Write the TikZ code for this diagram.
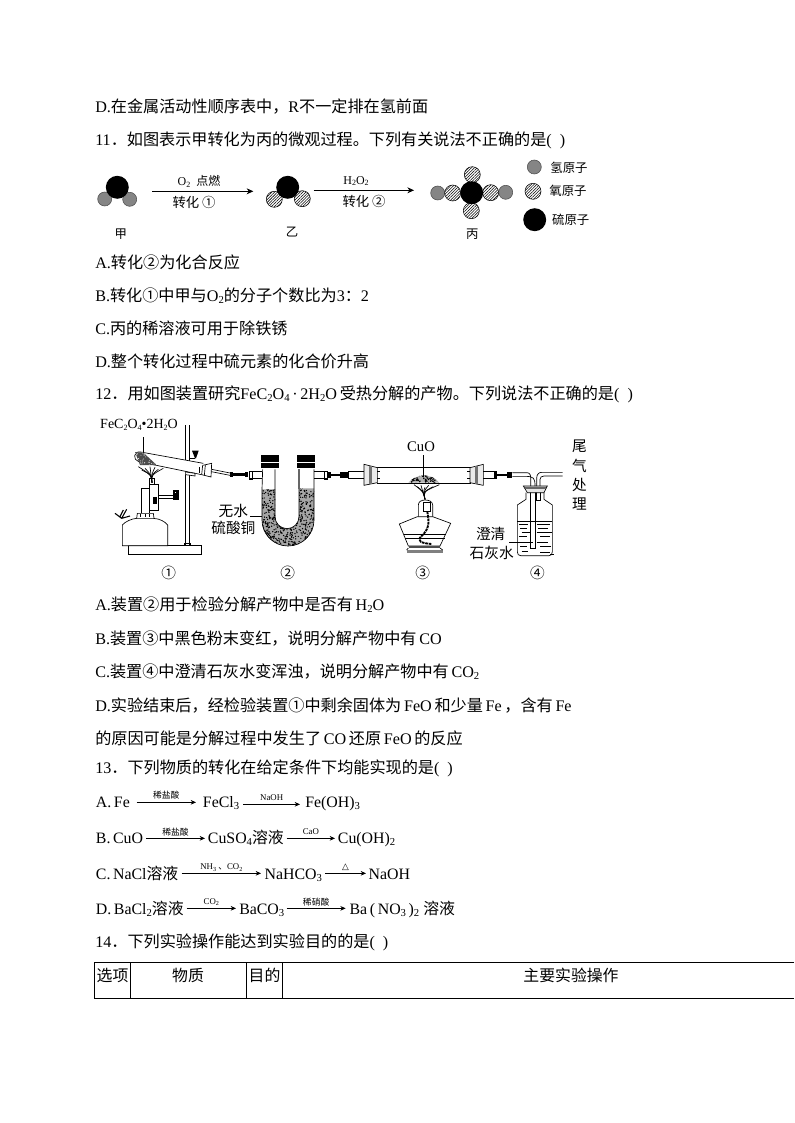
\documentclass[tikz,border=0pt]{standalone}
\usepackage{fontspec}
\setmainfont{Liberation Serif}
\newfontfamily\cjk{Noto Sans CJK SC}
\newfontfamily\djv{DejaVu Sans}
\newcommand\zh[1]{{\cjk #1}}
\newcommand\dn[1]{\raisebox{-.35ex}{\fontsize{8}{8}\selectfont #1}}
\newcommand\dns[1]{\raisebox{-.3ex}{\fontsize{4.6}{5}\selectfont #1}}
\newcommand\dnm[1]{\raisebox{-.3ex}{\fontsize{6}{6}\selectfont #1}}
\usetikzlibrary{arrows.meta,patterns.meta}
\tikzset{
 txt/.style={anchor=base west,inner sep=0pt,yshift=-1pt,font=\fontsize{12.1}{14}\selectfont},
 ctr/.style={anchor=center,inner sep=0pt,font=\fontsize{11}{13}\selectfont},
 small/.style={anchor=center,inner sep=0pt,font=\fontsize{9.3}{11}\selectfont},
 conv/.style={anchor=center,inner sep=0pt,font=\fontsize{10}{12}\selectfont},
 rlab/.style={anchor=center,inner sep=0pt,font=\fontsize{6.6}{7}\selectfont},
 rarrow/.style={-{Stealth[length=4pt,width=3.5pt]},line width=.55pt},
 marrow/.style={-{Stealth[length=5pt,width=4.5pt]},line width=.6pt},
 batom/.style={circle,fill=black,inner sep=0pt,minimum size=17.2pt},
 gatom/.style={circle,draw=black!70,line width=.4pt,fill=black!48,inner sep=0pt,minimum size=10.5pt},
 hatom/.style={circle,draw=black,line width=.4pt,inner sep=0pt,minimum size=12pt,
   preaction={fill=white},pattern={Lines[angle=45,distance=1.5pt,line width=.4pt]}},
 zA/.style={shift={(90,410)},x=.25pt,y=-.25pt},
 zB/.style={shift={(340,410)},x=.25pt,y=-.25pt},
 zC/.style={shift={(90,785)},x=.25pt,y=-.25pt},
 glass/.style={line width=.5pt,draw=black},
 rubber/.style={line width=2.2pt,draw=black},
 cell/.style={anchor=center,inner sep=0pt,font=\fontsize{11.9}{13}\selectfont},
}
\newcommand\speck[5]{\foreach \i in {1,...,#1}{\pgfmathsetmacro\sx{#2+rnd*(#3-#2)}\pgfmathsetmacro\sy{#4+rnd*(#5-#4)}\fill (\sx,\sy) circle (.55pt);}}
\newcommand\rx[6]{\coordinate (#1-a) at (#2,#4);\coordinate (#1-b) at (#3,#4);\draw[rarrow] (#1-a)--(#1-b);\node[rlab] (#1-l) at ({(#2+#3)/2},#5) {#6};}
\begin{document}
\begin{tikzpicture}[x=.75pt,y=-.75pt]
\useasboundingbox (0,0) rectangle (794,1123);
\fill[white] (0,0) rectangle (794,1123);
% body text
\node[txt] (l1) at (95,111) {D.\zh{在金属活动性顺序表中，}R\zh{不一定排在氢前面}};
\node[txt] (l2) at (95,144) {11\zh{．如图表示甲转化为丙的微观过程。下列有关说法不正确的是}(\ \ )};
\node[txt] (l3) at (95,267) {A.\zh{转化②为化合反应}};
\node[txt] (l4) at (95,300) {B.\zh{转化①中甲与}O\dn{2}\zh{的分子个数比为}3\zh{：}2};
\node[txt] (l5) at (95,333) {C.\zh{丙的稀溶液可用于除铁锈}};
\node[txt] (l6) at (95,366) {D.\zh{整个转化过程中硫元素的化合价升高}};
\node[txt] (l7) at (95,398) {12\zh{．用如图装置研究}FeC\dn{2}O\dn{4}\,·\,2H\dn{2}O\,\zh{受热分解的产物。下列说法不正确的是}(\ \ )};
\node[txt] (l8) at (95,609) {A.\zh{装置②用于检验分解产物中是否有}\,H\dn{2}O};
\node[txt] (l9) at (95,643) {B.\zh{装置③中黑色粉末变红，说明分解产物中有}\,CO};
\node[txt] (l10) at (95,676) {C.\zh{装置④中澄清石灰水变浑浊，说明分解产物中有}\,CO\dn{2}};
\node[txt] (l11) at (95,710) {D.\zh{实验结束后，经检验装置①中剩余固体为}\,FeO\,\zh{和少量}\,Fe\,\zh{，含有}\,Fe};
\node[txt] (l12) at (95,743) {\zh{的原因可能是分解过程中发生了}\,CO\,\zh{还原}\,FeO\,\zh{的反应}};
\node[txt] (l13) at (95,772) {13\zh{．下列物质的转化在给定条件下均能实现的是}(\ \ )};
\node[txt] (l14) at (95,946) {14\zh{．下列实验操作能达到实验目的的是}(\ \ )};
% molecules
\node[gatom] (j1) at (104.7,199) {};
\node[gatom] (j2) at (129.7,199.3) {};
\node[batom] (jS) at (117.3,187.3) {};
\node[hatom] (y1) at (274.3,199.3) {};
\node[hatom] (y2) at (302.3,198.7) {};
\node[batom] (yS) at (287.7,187.3) {};
\node[gatom] (b1) at (437.7,193) {};
\node[gatom] (b2) at (505.7,192.3) {};
\node[hatom] (b3) at (452.7,193) {};
\node[hatom] (b4) at (490.7,192.7) {};
\node[hatom] (b5) at (472.3,174.7) {};
\node[hatom] (b6) at (471.3,210.7) {};
\node[batom] (bS) at (471.7,192.7) {};
\coordinate (a1s) at (152.3,191.3);\coordinate (a1e) at (253.3,191.3);
\coordinate (a2s) at (313.7,190.3);\coordinate (a2e) at (414,190.3);
\draw[marrow] (a1s)--(a1e);
\draw[marrow] (a2s)--(a2e);
\node[anchor=center,inner sep=0pt,font=\fontsize{9}{10}\selectfont] (t1) at (199,181.7) {O\dnm{2}\ \ \zh{点燃}};
\node[conv] (t2) at (194,202) {\zh{转化 ①}};
\node[anchor=center,inner sep=0pt,font=\fontsize{9}{10}\selectfont] (t3) at (356,181) {H\dnm{2}O\dnm{2}};
\node[conv] (t4) at (364,201) {\zh{转化 ②}};
\node[small] (n1) at (120.7,234) {\zh{甲}};
\node[small] (n2) at (292,231.7) {\zh{乙}};
\node[small] (n3) at (472.3,234) {\zh{丙}};
\node[gatom] (k1) at (534.3,167) {};
\node[hatom] (k2) at (533,191.3) {};
\node[batom] (k3) at (534.7,219.7) {};
\node[small] (k1t) at (569,167.3) {\zh{氢原子}};
\node[small] (k2t) at (568,190.7) {\zh{氧原子}};
\node[small] (k3t) at (570.7,220) {\zh{硫原子}};
% apparatus left
\begin{scope}[zA]
\pgfmathsetseed{7}
\node[anchor=center,inner sep=0pt,font=\fontsize{10.5}{12}\selectfont] (fe) at (147,44) {FeC\dnm{2}O\dnm{4}•2H\dnm{2}O};
\node[ctr] (ws) at (430,303) {\zh{无水}};
\node[ctr] (lt) at (430,355) {\zh{硫酸铜}};
\node[ctr] (c1) at (236,490) {\zh{①}};
\node[ctr] (c2) at (593,490) {\zh{②}};
\draw[glass] (160,82)--(160,130);
% base and rod
\draw[glass,fill=white] (115,407)--(333,407)--(333,433)--(115,433)--cycle;
\draw[glass] (287,45)--(287,405)(297,45)--(297,405);
\draw[glass] (284,400) rectangle (300,407);
% burner
\draw[glass,fill=white] (97,407)--(97,345) .. controls (105,335) and (125,326) .. (140,325)--(190,325) .. controls (210,326) and (225,335) .. (233,345)--(233,407)--cycle;
\draw[glass] (140,325)--(142,310)--(190,310)--(192,325);
\draw[glass] (150,312)--(150,322)(165,312)--(165,322)(178,312)--(178,322);
\draw[glass,fill=white] (153,310)--(153,235)--(178,235)--(178,310);
\draw[glass,fill=white] (178,222)--(205,222)--(205,300)--(178,300)--cycle;
\draw[glass,fill=black] (190,262) rectangle (199,280);
\draw[glass] (205,255)--(250,255)(205,264)--(250,264);
\fill (250,240) rectangle (268,270);
\fill[white] (255,246) rectangle (258,250);
\draw[line width=.8pt] (75,310)--(95,325)--(120,318)(95,325)--(110,298)(90,320)--(100,300);
% flame
\foreach \xx/\yy in {145/170,155/180,165/175,180/170,195/172,205/178,220/175}{\draw[line width=.5pt] (186,218) .. controls (184,195) .. (\xx,\yy);}
\draw[line width=.6pt] (178,205) rectangle (192,222);
% tube
\draw[glass,fill=white] (340,160)--(152,126) .. controls (130,122) and (128,150) .. (146,155)--(335,194);
\begin{scope}
\clip (135,126)--(160,128)--(200,165)--(150,165)--cycle;
\fill[black!70] (130,120) rectangle (200,170);
\foreach \i in {1,...,50}{\pgfmathsetmacro\sx{135+rnd*65}\pgfmathsetmacro\sy{124+rnd*45}\fill[white] (\sx,\sy) circle (.35pt);}
\end{scope}
\draw[glass,fill=white] (338,166)--(365,160)--(363,201)--(335,194)--cycle;
\draw[glass] (346,165)--(343,196);
\draw[glass] (327,172)--(327,188);
\draw[glass] (365,178)--(420,189)(364,185)--(420,196);
\draw[rubber] (420,194)--(475,194);
\fill (420,186) rectangle (430,202);\fill (466,186) rectangle (475,202);
% clamp
\draw[glass,fill=white] (287,186)--(315,190)--(315,198)--(287,194);
\fill (306,122)--(326,122)--(318,145)--(315,145)--cycle;
\draw[line width=1.2pt] (298,145)--(316,145);
% U tube
\begin{scope}
\clip (516,238)--(516,330) arc[start angle=180,end angle=360,radius=19.5pt]--(672,235)--(627,235)--(627,320) arc[start angle=0,end angle=-180,radius=9pt]--(555,238)--cycle;
\fill[black!35] (510,230) rectangle (680,410);
\speck{720}{510}{680}{230}{410}
\end{scope}
\draw[glass] (518,178)--(516,238)--(516,330) arc[start angle=180,end angle=360,radius=19.5pt]--(672,178);
\draw[glass] (555,178)--(555,320) arc[start angle=180,end angle=360,radius=9pt]--(627,178);
\draw[line width=1pt,draw=black!60] (627,178)--(627,238);
\fill (513,135) rectangle (567,155);\fill (513,158) rectangle (567,175);
\fill (621,135) rectangle (675,155);\fill (621,158) rectangle (675,175);
\draw[glass] (480,185)--(516,185)(480,205)--(516,205);
\draw[glass] (478,183) rectangle (486,207);
\draw[glass] (672,185)--(712,185)(672,205)--(712,205);
\draw[glass] (704,183) rectangle (712,207);
\draw[rubber] (712,195)--(778,195);
\fill (712,187) rectangle (722,203);\fill (762,187) rectangle (778,203);
\draw[glass] (480,320)--(516,320);
\end{scope}
% apparatus right
\begin{scope}[zB]
\pgfmathsetseed{11}
\node[ctr] (cu) at (243,110) {CuO};
\node[ctr] (w1) at (718,108) {\zh{尾}};
\node[ctr] (w2) at (718,168) {\zh{气}};
\node[ctr] (w3) at (718,225) {\zh{处}};
\node[ctr] (w4) at (718,283) {\zh{理}};
\node[ctr] (cq) at (452,373) {\zh{澄清}};
\node[ctr] (sh) at (455,430) {\zh{石灰水}};
\node[ctr] (c3) at (248,490) {\zh{③}};
\node[ctr] (c4) at (592,490) {\zh{④}};
% combustion tube
\draw[glass] (112,171)--(392,171)(112,220)--(392,220);
\draw[glass,fill=black!8] (72,163)--(112,173)--(112,218)--(72,226)--cycle;
\fill[black!55] (88,167) rectangle (97,222);
\draw[glass,fill=black!8] (430,163)--(390,173)--(390,218)--(430,226)--cycle;
\fill[black!55] (405,167) rectangle (414,222);
\draw[glass] (112,185)--(120,185)(112,205)--(120,205)(390,185)--(382,185)(390,205)--(382,205);
\draw[glass] (25,185)--(72,185)(25,205)--(72,205);
\draw[glass] (430,185)--(470,185)(430,205)--(470,205);
\draw[rubber] (0,195)--(25,195);
\fill (0,187) rectangle (22,203);
\draw[rubber] (462,195)--(515,195);
\fill (462,187) rectangle (472,203);\fill (502,187) rectangle (517,203);
% CuO powder
\begin{scope}
\clip (205,218) .. controls (215,205) and (235,197) .. (250,196) .. controls (270,197) and (290,205) .. (297,218)--cycle;
\fill[black!30] (200,190) rectangle (300,220);
\speck{110}{200}{300}{190}{220}
\end{scope}
\draw[glass] (251,135)--(251,200);
% flame
\foreach \xx/\yy in {222/224,232/230,243/226,255/232,266/226,280/230,298/224}{\draw[line width=.5pt] (255,268) .. controls (250,245) .. (\xx,\yy);}
% lamp
\draw[glass,fill=white] (205,408)--(178,342)--(232,320)--(278,320)--(332,340)--(300,408)--cycle;
\draw[glass] (235,320)--(235,285) .. controls (235,275) and (245,270) .. (255,270) .. controls (268,270) and (278,275) .. (278,285)--(278,320);
\draw[glass,fill=white] (250,278) rectangle (272,305);
\draw[glass] (192,373)--(318,373)(196,385)--(314,385);
\draw[line width=1.4pt,dash pattern=on 2pt off .6pt] (262,305) .. controls (268,340) and (268,355) .. (245,378) .. controls (225,395) and (250,400) .. (275,402);
\fill[black!70] (207,408) rectangle (300,414);
\draw[glass] (200,420)--(308,420);
\fill[black!50] (200,420) rectangle (308,428);
\draw[glass] (205,414)--(200,420)(300,414)--(308,420);
% bottle
\draw[glass,fill=white] (558,248)--(558,268)--(532,285)--(532,425) .. controls (532,433) and (536,437) .. (542,437)--(627,437) .. controls (633,437) and (637,433) .. (637,425)--(637,285)--(612,268)--(612,248);
\draw[glass] (532,335)--(637,335);
\foreach \xa/\xb/\yy in {537/565/343,590/630/343,540/560/355,595/625/355,545/570/368,590/635/368,537/560/380,600/630/380,590/625/397,540/560/410,600/632/410,545/565/425,600/630/428,630/642/432}{\draw[glass] (\xa,\yy)--(\xb,\yy);}
\draw[glass] (572,240)--(572,415)--(585,415)--(585,240);
\draw[glass,fill=white] (590,240)--(590,272)--(600,272)--(600,240);
\draw[glass,fill=black!10] (550,228)--(622,228)--(612,248)--(562,248)--cycle;
\fill[black!60] (555,232) rectangle (618,238);
\draw[glass] (517,188)--(560,188) .. controls (570,188) and (572,195) .. (572,205)--(572,228);
\draw[glass] (517,199)--(555,199)  .. controls (582,199) and (585,205) .. (585,228);
\draw[glass] (590,228)--(590,205) .. controls (590,195) and (595,187) .. (605,187)--(668,187);
\draw[glass] (600,228)--(600,208) .. controls (600,202) and (605,198) .. (612,198)--(668,198);
\draw[glass] (508,397)--(578,397);
\end{scope}
% equations
\begin{scope}[zC]
\tikzset{txt/.append style={font=\fontsize{11.9}{14}\selectfont}}
\node[txt] (e1) at (17,62) {A.\,Fe};
\rx{r1}{140}{318}{52}{31}{\zh{稀盐酸}}
\node[txt] (e2) at (338,62) {FeCl\dn{3}};
\rx{r2}{460}{630}{58}{37}{NaOH}
\node[txt] (e3) at (645,62) {Fe(OH)\dn{3}};
\node[txt] (e4) at (17,170) {B.\,CuO};
\rx{r3}{168}{345}{160}{140}{\zh{稀盐酸}}
\node[txt] (e5) at (353,170) {CuSO\dn{4}\zh{溶液}};
\rx{r4}{590}{735}{160}{140}{CaO}
\node[txt] (e6) at (743,170) {Cu(OH)\dn{2}};
\node[txt] (e7) at (17,278) {C.\,NaCl\zh{溶液}};
\rx{r5}{275}{513}{265}{248}{NH\dns{3}\ \zh{、}CO\dns{2}}
\node[txt] (e8) at (523,278) {NaHCO\dn{3}};
\rx{r6}{705}{828}{265}{247}{{\djv △}}
\node[txt] (e9) at (835,278) {NaOH};
\node[txt] (e10) at (17,383) {D.\,BaCl\dn{2}\zh{溶液}};
\rx{r7}{290}{438}{370}{352}{CO\dns{2}}
\node[txt] (e11) at (447,383) {BaCO\dn{3}};
\rx{r8}{590}{767}{370}{350}{\zh{稀硝酸}}
\node[txt] (e12) at (778,383) {Ba\,(\,NO\dn{3}\,)\dn{2}\ \zh{溶液}};
\end{scope}
% table
\draw[line width=.6pt] (794,962)--(94.5,962)--(94.5,998)--(794,998);
\draw[line width=.6pt] (130,962)--(130,998)(246.5,962)--(246.5,998)(282.5,962)--(282.5,998);
\node[cell] (h1) at (112.5,975) {\zh{选项}};
\node[cell] (h2) at (188,975) {\zh{物质}};
\node[cell] (h3) at (264.5,975) {\zh{目的}};
\node[cell] (h4) at (571,975) {\zh{主要实验操作}};
\end{tikzpicture}
\end{document}
